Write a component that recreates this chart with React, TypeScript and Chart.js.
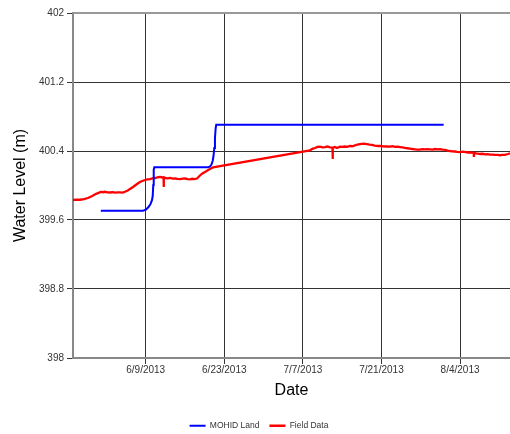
import React, { useEffect, useRef } from "react";
import { Chart, registerables } from "chart.js";

Chart.register(...registerables);

// Day numbers counted from 6/1/2013 (day 0)
const xTickDays = [8, 22, 36, 50, 64];
const yTickValues = [398, 398.8, 399.6, 400.4, 401.2, 402];
const xMin = -4.95;
const xMax = 72.9;

const mohidDays = [
  0, 7.52, 8.05, 8.5, 8.86, 9.12, 9.25, 9.35, 9.43, 9.53,
  19.15, 19.45, 19.72, 19.93, 20.08, 20.22, 20.34, 20.47, 20.57, 61.08,
];
const mohidLevels = [
  399.708, 399.708, 399.72, 399.75, 399.786, 399.83, 399.878, 400.006, 400.18,
  400.211, 400.211, 400.22, 400.243, 400.284, 400.342, 400.435, 400.551,
  400.667, 400.705, 400.705,
];

const fieldDays = [
  -4.95, -4.3, -3.7, -3.0, -2.3, -1.6, -1.0, -0.5, 0.0, 0.4, 0.75, 1.2, 1.64,
  2.1, 2.53, 3.0, 3.42, 3.9, 4.31, 4.8, 5.2, 5.74, 6.45, 6.98, 7.4, 7.88, 8.3,
  8.77, 9.2, 9.66, 10.1, 10.55, 11.0, 11.18, 11.21, 11.24, 11.79, 12.33, 12.8,
  13.22, 13.7, 14.11, 14.6, 15.0, 15.5, 15.89, 16.3, 16.6, 17.14, 17.67, 18.1,
  18.56, 19.0, 19.45, 19.99, 37.27, 37.7, 38.16, 38.6, 39.05, 39.5, 39.94, 40.4,
  40.83, 41.28, 41.31, 41.34, 41.7, 42.08, 42.61, 43.0, 43.5, 43.9, 44.39, 44.8,
  45.28, 45.7, 46.17, 46.8, 47.41, 47.9, 48.31, 48.8, 49.38, 49.8, 50.27, 50.9,
  51.52, 52.0, 52.4, 52.9, 53.3, 53.7, 54.19, 54.6, 55.08, 55.5, 55.97, 56.4,
  56.86, 57.3, 57.8, 58.2, 58.64, 59.1, 59.5, 60.0, 60.42, 60.9, 61.31, 61.8,
  62.2, 62.6, 63.09, 63.5, 63.98, 64.5, 65.05, 65.4, 65.76, 66.1, 66.44, 66.47,
  66.5, 66.9, 67.2, 67.55, 68.0, 68.44, 68.9, 69.33, 69.8, 70.22, 70.7, 71.11,
  71.5, 72.0, 72.54, 72.9,
];
const fieldLevels = [
  399.832, 399.836, 399.835, 399.842, 399.855, 399.876, 399.898, 399.912,
  399.925, 399.922, 399.927, 399.921, 399.919, 399.923, 399.917, 399.92, 399.921,
  399.918, 399.928, 399.942, 399.959, 399.983, 400.017, 400.041, 400.052,
  400.064, 400.07, 400.075, 400.083, 400.087, 400.094, 400.099, 400.093,
  400.095, 399.983, 400.092, 400.083, 400.087, 400.079, 400.081, 400.077,
  400.075, 400.08, 400.081, 400.074, 400.072, 400.078, 400.075, 400.081,
  400.116, 400.14, 400.157, 400.175, 400.191, 400.209, 400.408, 400.425,
  400.435, 400.447, 400.45, 400.443, 400.446, 400.452, 400.443, 400.44, 400.307,
  400.44, 400.446, 400.435, 400.45, 400.447, 400.452, 400.449, 400.458, 400.455,
  400.464, 400.475, 400.481, 400.486, 400.481, 400.474, 400.47, 400.462,
  400.458, 400.46, 400.454, 400.452, 400.45, 400.455, 400.447, 400.451, 400.446,
  400.441, 400.435, 400.432, 400.427, 400.423, 400.42, 400.417, 400.415,
  400.421, 400.418, 400.422, 400.42, 400.417, 400.423, 400.418, 400.42, 400.415,
  400.412, 400.405, 400.4, 400.396, 400.394, 400.39, 400.388, 400.392, 400.388,
  400.383, 400.385, 400.381, 400.38, 400.33, 400.378, 400.373, 400.37, 400.365,
  400.368, 400.361, 400.363, 400.357, 400.359, 400.354, 400.356, 400.351,
  400.355, 400.354, 400.365, 400.373,
];

const FONT = "'Liberation Sans', Arial, sans-serif";

function dayLabel(v: number): string {
  const d = new Date(2013, 5, 1 + Math.round(v));
  return `${d.getMonth() + 1}/${d.getDate()}/${d.getFullYear()}`;
}

const topBorder = {
  id: "topBorder",
  afterLayout(chart: any) {
    if (chart.legend) {
      chart.legend.left += 4;
      chart.legend.right += 4;
    }
  },
  afterDatasetsDraw(chart: any) {
    const { ctx, chartArea } = chart;
    ctx.save();
    ctx.strokeStyle = "#999999";
    ctx.lineWidth = 2;
    ctx.beginPath();
    ctx.moveTo(chartArea.left, chartArea.top);
    ctx.lineTo(chartArea.right, chartArea.top);
    ctx.stroke();
    ctx.restore();
  },
};

export default function App() {
  const ref = useRef<HTMLCanvasElement | null>(null);

  useEffect(() => {
    if (!ref.current) return;
    const chart = new Chart(ref.current, {
      type: "line",
      data: {
        datasets: [
          {
            label: "MOHID Land",
            data: mohidDays.map((d, i) => ({ x: d, y: mohidLevels[i] })),
            borderColor: "#0000ff",
            backgroundColor: "#0000ff",
            borderWidth: 2,
            pointRadius: 0,
            tension: 0,
          },
          {
            label: "Field Data",
            data: fieldDays.map((d, i) => ({ x: d, y: fieldLevels[i] })),
            borderColor: "#ff0000",
            backgroundColor: "#ff0000",
            borderWidth: 2.3,
            pointRadius: 0,
            tension: 0,
          },
        ],
      },
      options: {
        animation: false,
        responsive: false,
        maintainAspectRatio: false,
        layout: { padding: { top: 13, right: 0, bottom: -6, left: 0 } },
        plugins: {
          tooltip: { enabled: false },
          legend: {
            position: "bottom",
            labels: {
              usePointStyle: true,
              pointStyle: "line",
              pointStyleWidth: 16,
              padding: 10,
              color: "#333333",
              font: { family: FONT, size: 8.5 },
            },
          },
        },
        scales: {
          x: {
            type: "linear",
            min: xMin,
            max: xMax,
            afterBuildTicks: (s: any) => {
              s.ticks = xTickDays.map((v) => ({ value: v }));
            },
            afterFit: (s: any) => {
              s.height = 53.5;
            },
            ticks: {
              autoSkip: false,
              maxRotation: 0,
              padding: 0,
              color: "#333333",
              font: { family: FONT, size: 10 },
              callback: (v: any) => dayLabel(Number(v)),
            },
            grid: {
              color: "#333333",
              lineWidth: 1,
              tickLength: 6,
              drawTicks: true,
            },
            border: { color: "#888888", width: 2 },
            title: {
              display: true,
              text: "Date",
              color: "#000000",
              font: { family: FONT, size: 16 },
              padding: { top: 0, bottom: 11.4 },
            },
          },
          y: {
            type: "linear",
            min: 398,
            max: 402,
            afterBuildTicks: (s: any) => {
              s.ticks = yTickValues.map((v) => ({ value: v }));
            },
            afterFit: (s: any) => {
              s.width = 73;
            },
            ticks: {
              autoSkip: false,
              padding: 3,
              color: "#333333",
              font: { family: FONT, size: 10 },
              callback: (v: any) => String(Number(Number(v).toFixed(1))),
            },
            grid: {
              color: "#333333",
              lineWidth: 1,
              tickLength: 6,
              drawTicks: true,
            },
            border: { color: "#888888", width: 2 },
            title: {
              display: true,
              text: "Water Level (m)",
              color: "#000000",
              font: { family: FONT, size: 16 },
              padding: { top: 11, bottom: 0 },
            },
          },
        },
      },
      plugins: [topBorder],
    });
    return () => chart.destroy();
  }, []);

  return (
    <div
      style={{
        position: "fixed",
        left: 0,
        top: 0,
        width: 510,
        height: 434,
        background: "#ffffff",
      }}
    >
      <canvas ref={ref} width={510} height={434} style={{ display: "block" }} />
    </div>
  );
}
